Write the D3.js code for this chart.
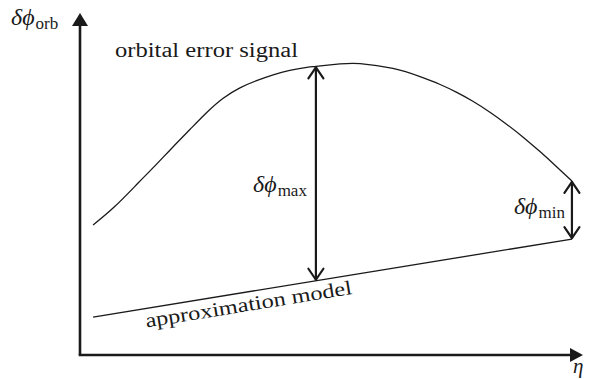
<!DOCTYPE html>
<html>
<head>
<meta charset="utf-8">
<script src="https://cdn.jsdelivr.net/npm/d3@7"></script>
<style>
  html, body { margin: 0; padding: 0; background: #fff; }
  svg { display: block; }
</style>
</head>
<body>
<svg id="chart" width="595" height="379"></svg>
<script>
// Orbital error signal (schematic, arbitrary units)
const etaSignal = [0.026, 0.069, 0.115, 0.149, 0.182, 0.219, 0.252, 0.284, 0.318, 0.351, 0.384, 0.417, 0.451, 0.469,
                   0.517, 0.557, 0.622, 0.676, 0.716, 0.749, 0.781, 0.815, 0.848, 0.881, 0.915, 0.948, 0.978];
const phiSignal = [0.380, 0.434, 0.502, 0.553, 0.604, 0.660, 0.709, 0.750, 0.781, 0.802, 0.819, 0.832, 0.841, 0.844,
                   0.851, 0.852, 0.838, 0.814, 0.791, 0.768, 0.742, 0.710, 0.675, 0.637, 0.594, 0.550, 0.509];

// Linear approximation model: end points
const etaModel = [0.026, 0.978];
const phiModel = [0.111, 0.339];

// Where the two deviations are marked (indices into the signal arrays)
const markerIndex = { max: 13, min: 26 };

const FONT = "'Liberation Serif', 'Times New Roman', serif";
const svg = d3.select("#chart");
const ink = "#1a1a1a";

const x = d3.scaleLinear().domain([0, 1]).range([80, 583]);
const y = d3.scaleLinear().domain([0, 1]).range([355, 13]);

const modelAt = eta => phiModel[0] + (eta - etaModel[0]) * (phiModel[1] - phiModel[0]) / (etaModel[1] - etaModel[0]);

// ---- axes with filled arrow heads ----
const axes = svg.append("g").attr("stroke", ink).attr("stroke-width", 2.6).attr("fill", "none");
axes.append("line").attr("x1", x(0)).attr("y1", y(0)).attr("x2", x(0)).attr("y2", y(1) + 10);
axes.append("line").attr("x1", x(0) - 1.3).attr("y1", y(0)).attr("x2", x(1) - 10).attr("y2", y(0));

svg.append("path")
  .attr("d", `M${x(0)},${y(1)} L${x(0) + 8},${y(1) + 13} L${x(0) - 8},${y(1) + 13} Z`)
  .attr("fill", ink);
svg.append("path")
  .attr("d", `M${x(1)},${y(0)} L${x(1) - 13},${y(0) - 7} L${x(1) - 13},${y(0) + 7} Z`)
  .attr("fill", ink);

// ---- signal curve (natural cubic spline through the samples) ----
const line = d3.line().x(d => x(d[0])).y(d => y(d[1])).curve(d3.curveNatural);
svg.append("path")
  .datum(d3.zip(etaSignal, phiSignal))
  .attr("d", line)
  .attr("fill", "none").attr("stroke", ink).attr("stroke-width", 1.3);

// ---- approximation model ----
svg.append("line")
  .attr("x1", x(etaModel[0])).attr("y1", y(phiModel[0]))
  .attr("x2", x(etaModel[1])).attr("y2", y(phiModel[1]))
  .attr("stroke", ink).attr("stroke-width", 1.3);

// ---- double-headed deviation arrows ----
function doubleArrow(i) {
  const eta = etaSignal[i];
  const px = x(eta), y1 = y(phiSignal[i]), y2 = y(modelAt(eta));
  const g = svg.append("g").attr("stroke", ink).attr("stroke-width", 2.2).attr("fill", "none")
    .attr("stroke-linecap", "round").attr("stroke-linejoin", "round");
  g.append("line").attr("x1", px).attr("y1", y1 + 1).attr("x2", px).attr("y2", y2 - 1);
  g.append("path").attr("d", `M${px - 7.5},${y1 + 12} L${px},${y1 + 1} L${px + 7.5},${y1 + 12}`);
  g.append("path").attr("d", `M${px - 7.5},${y2 - 12} L${px},${y2 - 1} L${px + 7.5},${y2 - 12}`);
  return { px, y1, y2 };
}
const aMax = doubleArrow(markerIndex.max);
const aMin = doubleArrow(markerIndex.min);

// ---- math labels: italic symbol with upright subscript ----
function mathLabel(px, py, sub, anchorEnd) {
  const t = svg.append("text").attr("x", px).attr("y", py)
    .attr("font-family", FONT).attr("fill", ink).attr("font-size", 24)
    .attr("text-anchor", anchorEnd ? "end" : "start");
  t.append("tspan").attr("font-style", "italic").text("δϕ");
  t.append("tspan").attr("font-size", 17).attr("dy", 4).attr("dx", 1).text(sub);
  return t;
}
mathLabel(11, 25, "orb");
mathLabel(aMax.px - 9, 192, "max", true);
mathLabel(aMin.px - 7, 214, "min", true);

svg.append("text").attr("x", x(1) - 10).attr("y", 373).attr("font-size", 21)
  .attr("font-family", FONT).attr("fill", ink)
  .attr("font-style", "italic").text("η");

// ---- curve captions ----
svg.append("text").attr("x", 115).attr("y", 57).attr("font-size", 20)
  .attr("font-family", FONT).attr("fill", ink)
  .attr("textLength", 183).attr("lengthAdjust", "spacingAndGlyphs")
  .text("orbital error signal");

const ang = Math.atan2(y(phiModel[1]) - y(phiModel[0]), x(etaModel[1]) - x(etaModel[0])) * 180 / Math.PI;
const midEta = 0.331;
svg.append("text")
  .attr("transform", `translate(${x(midEta)},${y(modelAt(midEta))}) rotate(${ang})`)
  .attr("y", 19).attr("text-anchor", "middle").attr("font-size", 20)
  .attr("font-family", FONT).attr("fill", ink)
  .attr("textLength", 209).attr("lengthAdjust", "spacingAndGlyphs")
  .text("approximation model");
</script>
</body>
</html>
